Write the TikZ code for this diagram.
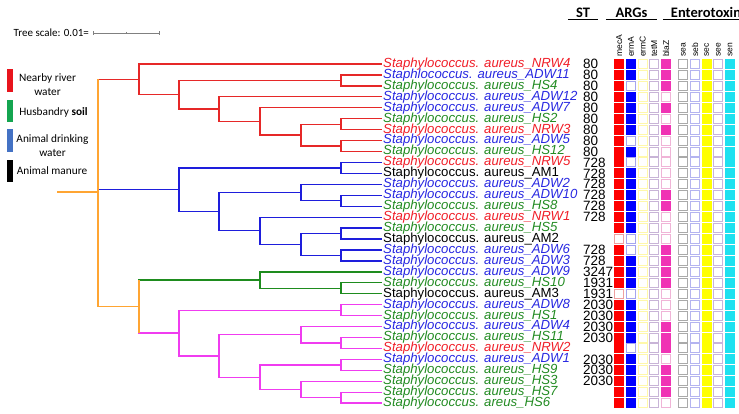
\documentclass[tikz,border=0pt]{standalone}
\usepackage{fontspec}
\setmainfont{Liberation Sans}
\newfontfamily\calfont{Carlito}
\usepackage{tikz}
\usetikzlibrary{calc}
\usepackage{xcolor}
\definecolor{labred}{RGB}{240,30,40}
\definecolor{labblue}{RGB}{40,40,225}
\definecolor{labgreen}{RGB}{34,139,34}
\definecolor{brred}{RGB}{230,40,40}
\definecolor{brblue}{RGB}{30,30,220}
\definecolor{brgreen}{RGB}{30,140,30}
\definecolor{brmag}{RGB}{240,60,240}
\definecolor{brorange}{RGB}{255,165,50}
\definecolor{mecf1}{RGB}{255,0,0}\definecolor{mecd1}{RGB}{255,0,0}
\definecolor{mecf0}{RGB}{255,255,255}\definecolor{mecd0}{RGB}{240,160,160}
\definecolor{ermf1}{RGB}{0,0,255}\definecolor{ermd1}{RGB}{0,0,255}
\definecolor{ermf0}{RGB}{255,255,255}\definecolor{ermd0}{RGB}{165,165,240}
\definecolor{blaf1}{RGB}{240,50,180}\definecolor{blad1}{RGB}{240,50,180}
\definecolor{blaf0}{RGB}{255,255,255}\definecolor{blad0}{RGB}{240,180,215}
\definecolor{ermcd}{RGB}{255,248,170}
\definecolor{tetd}{RGB}{200,180,215}
\definecolor{sead}{RGB}{170,170,170}
\definecolor{sebd}{RGB}{180,180,240}
\definecolor{secf}{RGB}{255,255,0}
\definecolor{seed}{RGB}{200,180,220}
\definecolor{senf}{RGB}{30,225,240}
\definecolor{legred}{RGB}{232,20,28}
\definecolor{leggreen}{RGB}{20,165,80}
\definecolor{legblue}{RGB}{68,114,196}
\newcommand\leaffont{\fontsize{13.2}{13.2}\selectfont}
\newcommand\stfont{\fontsize{13.5}{13.5}\selectfont}

\begin{document}
\begin{tikzpicture}[x=1pt,y=-1pt,
    leaf/.style={anchor=west,inner sep=1pt,font=\leaffont\itshape},
    leafup/.style={anchor=west,inner sep=1pt,font=\leaffont},
    br/.style={line width=1.3pt},
    cell/.style={line width=1pt},
    gene/.style={rotate=90,anchor=west,inner sep=0.5pt,font=\fontsize{8.5}{8.5}\selectfont},
    head/.style={inner sep=0,anchor=base,font=\calfont\bfseries\fontsize{14.5}{14.5}\selectfont},
    legtext/.style={align=center,inner sep=0,font=\calfont\fontsize{11.3}{14}\selectfont}]
  \useasboundingbox (0,0) rectangle (739,414);

  \node (scale) [anchor=west,inner sep=0,font=\calfont\fontsize{11}{11}\selectfont] at (13.5,33) {Tree scale: 0.01=};
  \coordinate (sb0) at (93,33);
  \coordinate (sbm) at (126,33);
  \coordinate (sb1) at (159,33);
  \draw[gray,line width=0.8pt] (sb0) -- (sb1);
  \draw[gray,line width=0.8pt] ([yshift=1.8pt]sb0) -- ([yshift=-1.8pt]sb0);
  \draw[gray,line width=0.8pt] ([yshift=1.8pt]sb1) -- ([yshift=-1.8pt]sb1);
  \draw[gray,line width=0.6pt] ([yshift=1pt]sbm) -- ([yshift=-1pt]sbm);

  \fill[legred] (7,69) rectangle (12.5,92);
  \fill[leggreen] (7,100) rectangle (12.5,122);
  \fill[legblue] (7,129) rectangle (12.5,152);
  \fill[black] (7,160) rectangle (12.5,182);
  \node (nrw) [legtext] at (47.5,84.7) {Nearby river\\water};
  \node (hs) [legtext] at (53.5,112.5) {Husbandry \textbf{soil}};
  \node (adw) [legtext] at (52.5,145.5) {Animal drinking\\water};
  \node (am) [legtext] at (52,171) {Animal manure};

  \node (hst) [head,minimum width=30pt] at (583,17.5) {ST};
  \node (harg) [head,minimum width=51pt] at (631.5,17.5) {ARGs};
  \node (hent) [head,minimum width=86pt] at (706,17.5) {Enterotoxin};
  \draw[line width=0.8pt] ([yshift=-1.5pt]hst.south west) -- ([yshift=-1.5pt]hst.south east);
  \draw[line width=0.8pt] ([yshift=-1.5pt]harg.south west) -- ([yshift=-1.5pt]harg.south east);
  \draw[line width=0.8pt] ([yshift=-1.5pt]hent.south west) -- ([yshift=-1.5pt]hent.south east);

  \node (gmec) [gene] at (619.3,57.5) {mecA};
  \node (germa) [gene] at (631,57.5) {ermA};
  \node (germc) [gene] at (642.7,57.5) {ermC};
  \node (gtet) [gene] at (654.3,57.5) {tetM};
  \node (gbla) [gene] at (666,57.5) {blaZ};
  \node (gsea) [gene] at (683.3,57.5) {sea};
  \node (gseb) [gene] at (695,57.5) {seb};
  \node (gsec) [gene] at (706.7,57.5) {sec};
  \node (gsee) [gene] at (718.3,57.5) {see};
  \node (gsen) [gene] at (730,57.5) {sen};

  \node (t1) [leaf,labred] at (382,64.00) {Staphylococcus. aureus\_NRW4};
  \node (t2) [leaf,labblue] at (382,74.94) {Staphlococcus. aureus\_ADW11};
  \node (t3) [leaf,labgreen] at (382,85.88) {Staphylococcus. aureus\_HS4};
  \node (t4) [leaf,labblue] at (382,96.82) {Staphylococcus. aureus\_ADW12};
  \node (t5) [leaf,labblue] at (382,107.76) {Staphylococcus. aureus\_ADW7};
  \node (t6) [leaf,labgreen] at (382,118.70) {Staphylococcus. aureus\_HS2};
  \node (t7) [leaf,labred] at (382,129.64) {Staphylococcus. aureus\_NRW3};
  \node (t8) [leaf,labblue] at (382,140.58) {Staphylococcus. aureus\_ADW5};
  \node (t9) [leaf,labgreen] at (382,151.52) {Staphylococcus. aureus\_HS12};
  \node (t10) [leaf,labred] at (382,162.46) {Staphylococcus. aureus\_NRW5};
  \node (t11) [leafup,black] at (382,173.40) {Staphylococcus. aureus\_AM1};
  \node (t12) [leaf,labblue] at (382,184.34) {Staphylococcus. aureus\_ADW2};
  \node (t13) [leaf,labblue] at (382,195.28) {Staphylococcus. aureus\_ADW10};
  \node (t14) [leaf,labgreen] at (382,206.22) {Staphylococcus. aureus\_HS8};
  \node (t15) [leaf,labred] at (382,217.16) {Staphylococcus. aureus\_NRW1};
  \node (t16) [leaf,labgreen] at (382,228.10) {Staphylococcus. aureus\_HS5};
  \node (t17) [leafup,black] at (382,239.04) {Staphylococcus. aureus\_AM2};
  \node (t18) [leaf,labblue] at (382,249.98) {Staphylococcus. aureus\_ADW6};
  \node (t19) [leaf,labblue] at (382,260.92) {Staphylococcus. aureus\_ADW3};
  \node (t20) [leaf,labblue] at (382,271.86) {Staphylococcus. aureus\_ADW9};
  \node (t21) [leaf,labgreen] at (382,282.80) {Staphylococcus. aureus\_HS10};
  \node (t22) [leafup,black] at (382,293.74) {Staphylococcus. aureus\_AM3};
  \node (t23) [leaf,labblue] at (382,304.68) {Staphylococcus. aureus\_ADW8};
  \node (t24) [leaf,labgreen] at (382,315.62) {Staphylococcus. aureus\_HS1};
  \node (t25) [leaf,labblue] at (382,326.56) {Staphylococcus. aureus\_ADW4};
  \node (t26) [leaf,labgreen] at (382,337.50) {Staphylococcus. aureus\_HS11};
  \node (t27) [leaf,labred] at (382,348.44) {Staphylococcus. aureus\_NRW2};
  \node (t28) [leaf,labblue] at (382,359.38) {Staphylococcus. aureus\_ADW1};
  \node (t29) [leaf,labgreen] at (382,370.32) {Staphylococcus. aureus\_HS9};
  \node (t30) [leaf,labgreen] at (382,381.26) {Staphylococcus. aureus\_HS3};
  \node (t31) [leaf,labgreen] at (382,392.20) {Staphylococcus. aureus\_HS7};
  \node (t32) [leaf,labgreen] at (382,403.14) {Staphylococcus. areus\_HS6};

  \coordinate (rootin) at (57,192);
  \coordinate (root) at (98,192);
  \coordinate (r1) at (139,79.39);
  \coordinate (r2) at (179,94.77);
  \coordinate (a23) at (341,80.41);
  \coordinate (r3) at (219,109.13);
  \coordinate (r4) at (260,121.44);
  \coordinate (r5) at (301,135.11);
  \coordinate (a67) at (341,124.17);
  \coordinate (a89) at (341,146.05);
  \coordinate (b1) at (179,189.82);
  \coordinate (b1011) at (341,167.93);
  \coordinate (b3) at (219,211.70);
  \coordinate (b5) at (301,192.55);
  \coordinate (b1314) at (341,200.75);
  \coordinate (b4) at (260,230.84);
  \coordinate (b6) at (301,244.51);
  \coordinate (b1617) at (341,233.57);
  \coordinate (b1819) at (341,255.45);
  \coordinate (o1) at (139,306.57);
  \coordinate (g1) at (260,280.07);
  \coordinate (g2122) at (341,288.27);
  \coordinate (m1) at (179,333.06);
  \coordinate (m2324) at (341,310.15);
  \coordinate (m3) at (219,355.97);
  \coordinate (m5) at (301,334.77);
  \coordinate (m2627) at (341,342.97);
  \coordinate (m4) at (260,377.16);
  \coordinate (m2829) at (341,364.85);
  \coordinate (m7) at (301,389.47);
  \coordinate (m3132) at (341,397.67);

  \draw[br,brred] (root) |- (r1);
  \draw[br,brblue] (root) |- (b1);
  \draw[br,brorange] (root) |- (o1);
  \draw[br,brorange] (rootin) -- (root);
  \draw[br,brorange] (root |- r1) -- (root |- o1);

  \draw[br,brred] (r1) |- (t1) (r1) |- (r2) (r2) |- (a23) (a23) |- (t2) (a23) |- (t3);
  \draw[br,brred] (r2) |- (r3) (r3) |- (t4) (r3) |- (r4) (r4) |- (t5) (r4) |- (r5);
  \draw[br,brred] (r5) |- (a67) (a67) |- (t6) (a67) |- (t7) (r5) |- (a89) (a89) |- (t8) (a89) |- (t9);

  \draw[br,brblue] (b1) |- (b1011) (b1011) |- (t10) (b1011) |- (t11) (b1) |- (b3);
  \draw[br,brblue] (b3) |- (b5) (b5) |- (t12) (b5) |- (b1314) (b1314) |- (t13) (b1314) |- (t14);
  \draw[br,brblue] (b3) |- (b4) (b4) |- (t15) (b4) |- (b6);
  \draw[br,brblue] (b6) |- (b1617) (b1617) |- (t16) (b1617) |- (t17) (b6) |- (b1819) (b1819) |- (t18) (b1819) |- (t19);

  \draw[br,brgreen] (o1) |- (g1) (g1) |- (t20) (g1) |- (g2122) (g2122) |- (t21) (g2122) |- (t22);

  \draw[br,brmag] (o1) |- (m1) (m1) |- (m2324) (m2324) |- (t23) (m2324) |- (t24) (m1) |- (m3);
  \draw[br,brmag] (m3) |- (m5) (m5) |- (t25) (m5) |- (m2627) (m2627) |- (t26) (m2627) |- (t27);
  \draw[br,brmag] (m3) |- (m4) (m4) |- (m2829) (m2829) |- (t28) (m2829) |- (t29) (m4) |- (m7);
  \draw[br,brmag] (m7) |- (t30) (m7) |- (m3132) (m3132) |- (t31) (m3132) |- (t32);
  \draw[br,brorange] (o1 |- g1) -- (o1 |- m1);

  \foreach \st/\ma/\ea/\bz [count=\i] in {80/1/1/1,80/1/1/1,80/1/0/1,80/1/1/0,80/1/1/1,80/1/1/0,80/1/1/1,80/1/0/0,80/1/1/0,
      728/1/0/0,728/1/1/0,728/1/1/0,728/1/1/1,728/1/1/1,728/1/1/0,0/1/1/0,0/0/0/0,728/1/0/1,728/1/1/1,
      3247/1/1/1,1931/1/1/1,1931/0/0/0,2030/1/1/0,2030/1/1/0,2030/1/1/1,2030/1/1/1,0/1/0/1,
      2030/1/1/0,2030/1/1/1,2030/1/1/1,0/1/1/1,0/1/1/0}{
    \pgfmathsetmacro\y{64+(\i-1)*10.94}
    \ifnum\st>0 \node (st\i) [anchor=west,inner sep=0.5pt,font=\stfont] at (582.5,\y) {\st}; \fi
    \draw[cell,draw=mecd\ma,fill=mecf\ma] (614.8,\y-4.5) rectangle ++(9,9);
    \draw[cell,draw=ermd\ea,fill=ermf\ea] (626.5,\y-4.5) rectangle ++(9,9);
    \draw[cell,draw=ermcd,fill=white] (638.2,\y-4.5) rectangle ++(9,9);
    \draw[cell,draw=tetd,fill=white] (649.8,\y-4.5) rectangle ++(9,9);
    \draw[cell,draw=blad\bz,fill=blaf\bz] (661.5,\y-4.5) rectangle ++(9,9);
    \draw[cell,draw=sead,fill=white] (678.8,\y-4.5) rectangle ++(9,9);
    \draw[cell,draw=sebd,fill=white] (690.5,\y-4.5) rectangle ++(9,9);
    \draw[cell,draw=secf,fill=secf] (702.2,\y-4.5) rectangle ++(9,9);
    \draw[cell,draw=seed,fill=white] (713.8,\y-4.5) rectangle ++(9,9);
    \draw[cell,draw=senf,fill=senf] (725.5,\y-4.5) rectangle ++(9,9);
  }
\end{tikzpicture}
\end{document}
